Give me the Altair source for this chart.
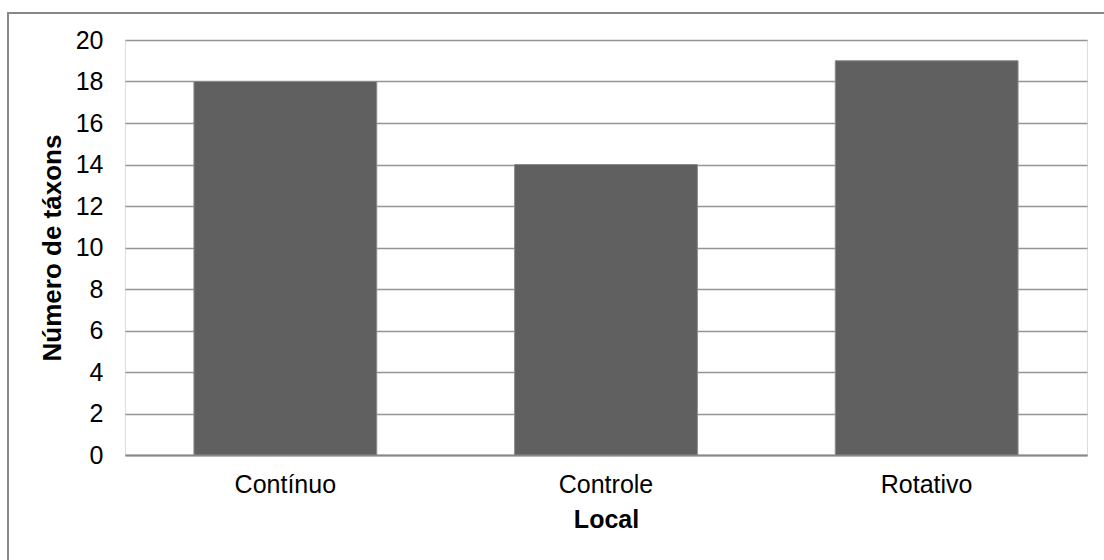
import altair as alt
import pandas as pd

locais = ["Contínuo", "Controle", "Rotativo"]
taxons = [18, 14, 19]

df = pd.DataFrame({"Local": locais, "Taxons": taxons})

W, H = 962, 415
FONT = "Liberation Sans"
FS = 25

bars = alt.Chart(df).mark_bar(color="#606060", stroke="#8a8a8a", strokeWidth=1).encode(
    x=alt.X("Local:N", sort=locais,
            scale=alt.Scale(paddingInner=0.43, paddingOuter=0.215),
            axis=alt.Axis(title="Local", labelAngle=0, labelFontSize=FS, titleFontSize=FS,
                          labelFont=FONT, titleFont=FONT, titleFontWeight="bold",
                          labelColor="#000", titleColor="#000",
                          ticks=False, domain=True, domainColor="#888888", domainWidth=2,
                          labelPadding=17, titlePadding=10)),
    y=alt.Y("Taxons:Q", scale=alt.Scale(domain=[0, 20]),
            axis=alt.Axis(title="Número de táxons", values=list(range(0, 21, 2)),
                          labelFontSize=FS, titleFontSize=26, labelFont=FONT, titleFont=FONT,
                          titleFontWeight="bold", labelColor="#000", titleColor="#000",
                          ticks=False, domain=False, grid=True, gridColor="#959595",
                          gridWidth=1.5, labelPadding=22, titlePadding=10)),
)

border = alt.Chart(df).mark_rect(fill=None, stroke="#888888", strokeWidth=1.5, clip=False).encode(
    x=alt.value(-117), x2=alt.value(1000), y=alt.value(-27), y2=alt.value(540)
)

chart = alt.layer(border, bars).properties(
    width=W, height=H,
    autosize=alt.AutoSizeParams(type="none"),
    padding={"left": 125, "top": 40, "right": 17, "bottom": 105},
).configure_view(stroke=None).configure(background="white")

chart.save("out.html", embed_options={"renderer": "svg", "actions": False})
